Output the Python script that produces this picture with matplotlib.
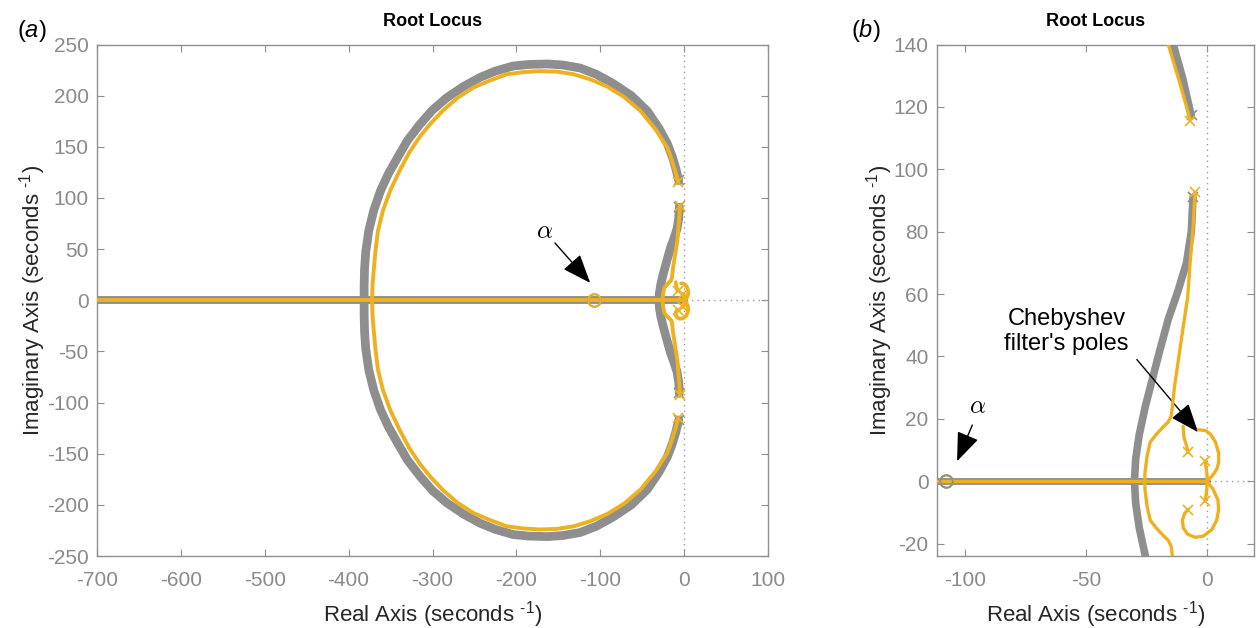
import numpy as np
import matplotlib
matplotlib.use("Agg")
import matplotlib.pyplot as plt

plt.rcParams["font.family"] = ["Liberation Sans", "DejaVu Sans"]
plt.rcParams["mathtext.fontset"] = "custom"
plt.rcParams["mathtext.rm"] = "Liberation Sans"
plt.rcParams["mathtext.it"] = "Liberation Sans:italic"
plt.rcParams["axes.unicode_minus"] = False

GRAY = "#8e8e8e"
ORANGE = "#EDB120"
SPINE = "#8f8f8f"
TICKLBL = "#8a8a8a"

# ---- root-locus branches (upper half-plane; conjugates are mirrored) ----
# reference loop (gray)
gray_outer_x = [-6.5, -10, -14, -20, -30, -44, -63, -85, -105, -124, -145, -163,
                -185, -204, -225, -243, -263, -283, -300, -315, -330, -342, -353,
                -362, -370, -376, -379.5, -381, -381.5, -381.5]
gray_outer_y = [117, 129, 140, 153, 168, 185, 200, 212, 221, 227, 230, 231,
                230.5, 229, 224, 218, 209, 198, 186, 172, 156, 139, 123,
                107, 88, 68, 48, 31, 15, 0]
gray_inner_x = [-5.8, -6.5, -8.5, -12, -16, -19.5, -22.5, -25.5, -28, -29.5, -30]
gray_inner_y = [91, 80, 70, 61, 52, 42, 33, 24, 15, 7, 0]

# loop with Chebyshev filter (orange)
orange_outer_x = [-7, -11, -16, -20, -34, -52, -72, -92, -112, -132, -152, -172,
                  -192, -211, -231, -251, -270, -287, -302, -315, -328, -339,
                  -350, -359, -365, -368, -370, -371.5, -372]
orange_outer_y = [116, 127, 140, 149, 167, 185, 199, 209, 216, 221, 223.5, 224,
                  223, 221, 215, 208, 198, 186, 173, 160, 144, 127,
                  108, 88, 68, 48, 30, 15, 0]
orange_inner_x = [-5, -5.8, -7, -8, -10, -12, -13.5, -14.3, -14.8, -16, -18, -21,
                  -23.5, -24.8, -25.6, -25.8]
orange_inner_y = [92.6, 80.8, 70, 59, 48.7, 38, 30, 24, 21, 19, 17.5, 15,
                  12.5, 8, 3, 0]

# filter-pole branches near the origin
hook_up_x = [-7.9, -8.3, -9.5, -9.9]
hook_up_y = [9.3, 10.9, 14, 17.6]
loop_up_x = [0.3, 2, 4, 4.8, 4.8, 3.5, 1.5, -0.5, -3.6]
loop_up_y = [0.4, 1.5, 3.8, 6, 9, 12.5, 15, 16.2, 16.5]
loop_dn_x = [0.3, 2.5, 4.5, 4.8, 4, 2, -1.5, -5, -8, -9.8, -10.2, -9.2, -7.9]
loop_dn_y = [-0.4, -2.6, -6, -9, -12.5, -15.5, -17.6, -18, -17, -15, -12.5, -10.3, -9.2]
stub_x = [-0.8, -0.3, 0, 0]
stub_y = [6.4, 4, 1.5, 0]

real_axis_x = [-760, 0]

gray_poles_x = [-6.3, -5.8]
gray_poles_y = [117.5, 91]
orange_poles_x = [-7, -5, -7.9, -0.8]
orange_poles_y = [115.5, 92.6, 9.3, 6.4]
zero_x = -108


def conj_curve(x, y):
    x = np.asarray(x, float)
    y = np.asarray(y, float)
    return (np.concatenate([x, x[::-1][1:]]),
            np.concatenate([y, -y[::-1][1:]]))


def draw_locus(ax, gw, ow, zero_on_top):
    kw = dict(solid_capstyle="round", solid_joinstyle="round")
    ax.axvline(0, color="#9a9a9a", ls=(0, (1, 3)), lw=1.0, zorder=1)
    ax.axhline(0, color="#9a9a9a", ls=(0, (1, 3)), lw=1.0, zorder=1)
    # gray system
    for bx, by in [(gray_outer_x, gray_outer_y), (gray_inner_x, gray_inner_y)]:
        cx, cy = conj_curve(bx, by)
        ax.plot(cx, cy, color=GRAY, lw=gw, zorder=2, **kw)
    ax.plot(real_axis_x, [0, 0], color=GRAY, lw=gw * 0.9, zorder=2, **kw)
    px = np.array(gray_poles_x)
    py = np.array(gray_poles_y)
    ax.plot(np.r_[px, px], np.r_[py, -py], ls="none", marker="x", ms=7,
            mew=1.2, color=GRAY, zorder=3)
    # orange system
    for bx, by in [(orange_outer_x, orange_outer_y), (orange_inner_x, orange_inner_y),
                   (stub_x, stub_y)]:
        cx, cy = conj_curve(bx, by)
        ax.plot(cx, cy, color=ORANGE, lw=ow, zorder=4, **kw)
    for bx, by in [(hook_up_x, hook_up_y), (loop_up_x, loop_up_y), (loop_dn_x, loop_dn_y)]:
        ax.plot(bx, by, color=ORANGE, lw=ow, zorder=4, **kw)
    ax.plot(real_axis_x, [0, 0], color=ORANGE, lw=ow, zorder=4, **kw)
    px = np.array(orange_poles_x)
    py = np.array(orange_poles_y)
    ax.plot(np.r_[px, px], np.r_[py, -py], ls="none", marker="x", ms=7,
            mew=1.2, color=ORANGE, zorder=5)
    zo = {"orange": (6, 5.5), "gray": (5.5, 6)}[zero_on_top]
    ax.plot([zero_x], [0], ls="none", marker="o", ms=9, mfc="none", mew=1.4,
            mec=ORANGE, zorder=zo[0])
    ax.plot([zero_x], [0], ls="none", marker="o", ms=9, mfc="none", mew=1.4,
            mec=GRAY, zorder=zo[1])


def style_axes(ax):
    for s in ax.spines.values():
        s.set_color(SPINE)
        s.set_linewidth(1.0)
    ax.tick_params(direction="in", length=5, width=0.8, color=SPINE,
                   top=True, right=True, labelsize=15, labelcolor=TICKLBL)
    ax.tick_params(axis="x", pad=11)
    ax.tick_params(axis="y", pad=6)
    ax.set_title("Root Locus", fontsize=13, fontweight="bold", pad=13)
    ax.set_xlabel(r"Real Axis (seconds $^{\text{-1}}$)", fontsize=16,
                  color="#262626", labelpad=6)
    ax.set_ylabel(r"Imaginary Axis (seconds $^{\text{-1}}$)", fontsize=16,
                  color="#262626", labelpad=-1)


fig = plt.figure(figsize=(12.56, 6.28), dpi=100)
ax1 = fig.add_axes([0.0772, 0.1146, 0.5343, 0.8145])
ax2 = fig.add_axes([0.7460, 0.1146, 0.2524, 0.8145])

draw_locus(ax1, 6.3, 2.8, "orange")
ax1.set_xlim(-700, 100)
ax1.set_ylim(-250, 250)
ax1.set_xticks(np.arange(-700, 101, 100))
ax1.set_yticks(np.arange(-250, 251, 50))
style_axes(ax1)

draw_locus(ax2, 5.5, 2.4, "gray")
ax2.set_xlim(-111.6, 19.4)
ax2.set_ylim(-24, 140)
ax2.set_xticks([-100, -50, 0])
ax2.set_yticks(np.arange(-20, 141, 20))
style_axes(ax2)

arrow_kw = dict(arrowstyle="-|>,head_length=0.9,head_width=0.35",
                color="black", lw=1.0, mutation_scale=20, shrinkA=0, shrinkB=0)

# annotations, panel (a)
ax1.text(-166, 68, r"$\alpha$", fontsize=18, ha="center", va="center",
         math_fontfamily="cm")
ax1.annotate("", xy=(-112, 17), xytext=(-154, 56), arrowprops=arrow_kw)

# annotations, panel (b)
ax2.text(-95, 24, r"$\alpha$", fontsize=18, ha="center", va="center",
         math_fontfamily="cm")
ax2.annotate("", xy=(-103.3, 6.4), xytext=(-97, 18), arrowprops=arrow_kw)
ax2.text(-58, 48, "Chebyshev\nfilter's poles", fontsize=17, ha="center",
         va="center", linespacing=1.15)
ax2.annotate("", xy=(-3.7, 15.7), xytext=(-29, 39), arrowprops=arrow_kw)

fig.text(0.0255, 0.951, r"($\mathit{a}$)", fontsize=17, ha="center", va="center")
fig.text(0.6895, 0.951, r"($\mathit{b}$)", fontsize=17, ha="center", va="center")

fig.savefig("out.png", dpi=100)
